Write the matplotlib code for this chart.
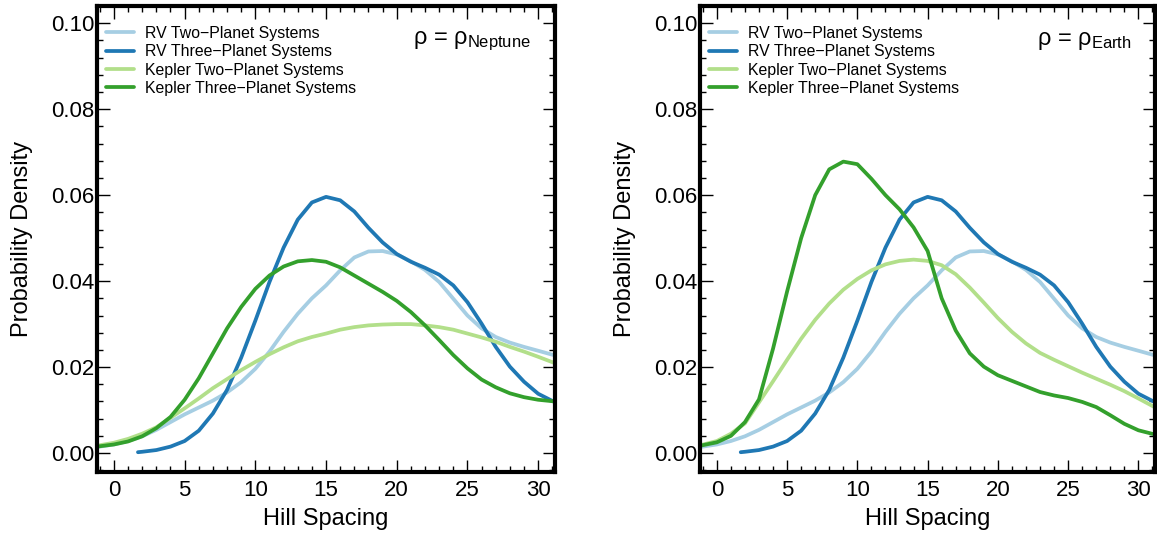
import matplotlib
matplotlib.use("Agg")
import matplotlib.pyplot as plt
from matplotlib.ticker import MultipleLocator

plt.rcParams['font.family'] = ['Liberation Sans', 'DejaVu Sans']
plt.rcParams['mathtext.fontset'] = 'custom'
plt.rcParams['mathtext.rm'] = 'Liberation Sans'
plt.rcParams['mathtext.it'] = 'Liberation Sans:italic'

# Hill spacing grid the curves were read at
hill = [-1.2, 0, 1, 2, 3, 4, 5, 6, 7, 8, 9, 10, 11, 12, 13, 14, 15, 16, 17, 18,
        19, 20, 21, 22, 23, 24, 25, 26, 27, 28, 29, 30, 31.2]
hill_rv3 = [1.7, 2, 3, 4, 5, 6, 7, 8, 9, 10, 11, 12, 13, 14, 15, 16, 17, 18,
            19, 20, 21, 22, 23, 24, 25, 26, 27, 28, 29, 30, 31.2]

# RV systems (same in both panels)
rv_two = [0.0014, 0.0020, 0.0028, 0.0039, 0.0054, 0.0072, 0.0090, 0.0106, 0.0122,
          0.0141, 0.0165, 0.0196, 0.0236, 0.0282, 0.0324, 0.0360, 0.0390, 0.0425,
          0.0455, 0.0469, 0.0470, 0.0462, 0.0446, 0.0426, 0.0398, 0.0359, 0.0320,
          0.0290, 0.0270, 0.0257, 0.0247, 0.0238, 0.0227]
rv_three = [0.0002, 0.0003, 0.0007, 0.0015, 0.0028, 0.0052, 0.0092, 0.0147, 0.0222,
            0.0308, 0.0398, 0.0478, 0.0543, 0.0583, 0.0596, 0.0588, 0.0562, 0.0524,
            0.0490, 0.0463, 0.0445, 0.0431, 0.0415, 0.0390, 0.0351, 0.0301, 0.0247,
            0.0201, 0.0166, 0.0138, 0.0118]

# Kepler systems, rho = rho_Neptune
kep_two_nep = [0.0017, 0.0024, 0.0033, 0.0045, 0.0060, 0.0082, 0.0104, 0.0127, 0.0151,
               0.0172, 0.0193, 0.0212, 0.0230, 0.0246, 0.0260, 0.0270, 0.0278, 0.0287,
               0.0293, 0.0297, 0.0299, 0.0300, 0.0300, 0.0297, 0.0293, 0.0287, 0.0278,
               0.0269, 0.0259, 0.0247, 0.0236, 0.0224, 0.0209]
kep_three_nep = [0.0015, 0.0020, 0.0027, 0.0039, 0.0058, 0.0084, 0.0124, 0.0174, 0.0232,
                 0.0290, 0.0340, 0.0382, 0.0413, 0.0434, 0.0446, 0.0449, 0.0445, 0.0432,
                 0.0413, 0.0394, 0.0375, 0.0354, 0.0328, 0.0297, 0.0263, 0.0228, 0.0197,
                 0.0171, 0.0153, 0.0139, 0.0130, 0.0124, 0.0120]

# Kepler systems, rho = rho_Earth
kep_two_earth = [0.0018, 0.0028, 0.0045, 0.0069, 0.0118, 0.0167, 0.0217, 0.0266, 0.0310,
                 0.0348, 0.0380, 0.0405, 0.0425, 0.0439, 0.0447, 0.0450, 0.0447, 0.0437,
                 0.0416, 0.0385, 0.0350, 0.0314, 0.0282, 0.0255, 0.0233, 0.0217, 0.0202,
                 0.0187, 0.0173, 0.0159, 0.0144, 0.0127, 0.0106]
kep_three_earth = [0.0017, 0.0025, 0.0040, 0.0072, 0.0125, 0.0243, 0.0376, 0.0500, 0.0600,
                   0.0660, 0.0678, 0.0672, 0.0638, 0.0600, 0.0567, 0.0525, 0.0470, 0.0360,
                   0.0285, 0.0232, 0.0201, 0.0181, 0.0168, 0.0155, 0.0142, 0.0134, 0.0128,
                   0.0119, 0.0107, 0.0088, 0.0068, 0.0053, 0.0043]

labels = ["RV Two-Planet Systems", "RV Three-Planet Systems",
          "Kepler Two-Planet Systems", "Kepler Three-Planet Systems"]
colors = ["#a6cee3", "#1f78b4", "#b2df8a", "#33a02c"]
panels = [(kep_two_nep, kep_three_nep, "Neptune"), (kep_two_earth, kep_three_earth, "Earth")]

fig = plt.figure(figsize=(11.57, 5.35), dpi=100)
boxes = [[0.0838, 0.1178, 0.3960, 0.8710], [0.6050, 0.1178, 0.3935, 0.8710]]

for box, (k2, k3, name) in zip(boxes, panels):
    ax = fig.add_axes(box)
    kw = dict(lw=2.7, solid_joinstyle='round', solid_capstyle='round')
    ax.plot(hill, rv_two, color=colors[0], label=labels[0].replace("-", "\u2212"), **kw)
    ax.plot(hill_rv3, rv_three, color=colors[1], label=labels[1].replace("-", "\u2212"), **kw)
    ax.plot(hill, k2, color=colors[2], label=labels[2].replace("-", "\u2212"), **kw)
    ax.plot(hill, k3, color=colors[3], label=labels[3].replace("-", "\u2212"), **kw)

    ax.set_xlim(-1.2, 31.2)
    ax.set_ylim(-0.0044, 0.104)
    ax.xaxis.set_major_locator(MultipleLocator(5))
    ax.xaxis.set_minor_locator(MultipleLocator(1))
    ax.yaxis.set_major_locator(MultipleLocator(0.02))
    ax.yaxis.set_minor_locator(MultipleLocator(0.004))
    ax.yaxis.set_major_formatter(plt.FuncFormatter(lambda v, p: "%.2f" % v))
    ax.tick_params(which='both', direction='in', top=True, right=True, width=1)
    ax.tick_params(which='major', length=9, labelsize=16)
    ax.tick_params(which='minor', length=4.5)
    ax.tick_params(axis='y', pad=2)
    ax.tick_params(axis='x', pad=6)
    for s in ax.spines.values():
        s.set_linewidth(3)

    ax.set_xlabel("Hill Spacing", fontsize=17, labelpad=5)
    ax.set_ylabel("Probability Density", fontsize=17, labelpad=13)

    leg = ax.legend(loc='upper left', bbox_to_anchor=(0.02, 0.957), borderaxespad=0,
                    frameon=False, fontsize=11.4, handlelength=1.75, handletextpad=0.7,
                    labelspacing=0.21, borderpad=0)
    ax.text(0.948, 0.925, "\u03c1 = \u03c1$_{\\mathrm{%s}}$" % name, transform=ax.transAxes,
            ha='right', va='center', fontsize=17)

fig.savefig("out.png", dpi=100)
